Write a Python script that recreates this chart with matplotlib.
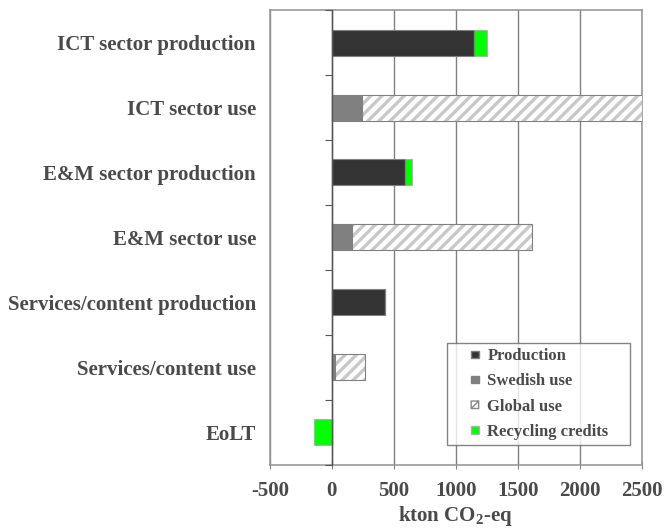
import numpy as np
from matplotlib import pyplot as plt
from matplotlib.patches import Patch, Rectangle, PathPatch
from matplotlib.path import Path
from matplotlib.legend_handler import HandlerPatch

plt.rcParams['font.family'] = ['Liberation Serif', 'DejaVu Serif']
plt.rcParams['font.weight'] = 'bold'
plt.rcParams['mathtext.fontset'] = 'custom'
plt.rcParams['mathtext.rm'] = 'Liberation Serif:bold'
plt.rcParams['mathtext.bf'] = 'Liberation Serif:bold'
plt.rcParams['hatch.linewidth'] = 2.4

# data (kton CO2-eq)
categories = ['ICT sector production', 'ICT sector use', 'E&M sector production',
              'E&M sector use', 'Services/content production', 'Services/content use', 'EoLT']
production = [1145, 0, 590, 0, 427, 0, 0]
swedish_use = [0, 242, 0, 162, 0, 22, 0]
global_use = [0, 2255, 0, 1448, 0, 244, 0]
recycling = [105, 0, 52, 0, 0, 0, -145]
xticks = [-500, 0, 500, 1000, 1500, 2000, 2500]

txt = '#4a4a4a'
edge = '#808080'

fig = plt.figure(figsize=(6.68, 5.30), dpi=100)
ax = fig.add_axes([0.404, 0.123, 0.557, 0.858])

y = np.arange(len(categories))
h = 0.4
prod = np.array(production)
swe = np.array(swedish_use)
glob_ = np.array(global_use)
rec = np.array(recycling)

ax.barh(y, prod, h, color='#333333', edgecolor=edge, linewidth=0.8, zorder=3)
ax.barh(y, swe, h, left=prod, color='#808080', edgecolor=edge, linewidth=0.8, zorder=3)
# hatched global use: light hatch, then gray outline
ax.barh(y, glob_, h, left=prod + swe, color='white', edgecolor='#c8c8c8',
        hatch='///', linewidth=0, zorder=3)
ax.barh(y, glob_, h, left=prod + swe, color='none', edgecolor=edge, linewidth=0.8, zorder=4)
rec_left = np.where(rec > 0, prod + swe + glob_, 0)
ax.barh(y, rec, h, left=rec_left, color='#00ff00', edgecolor='#b0b0b0', linewidth=0.8, zorder=3)

ax.set_xlim(-500, 2500)
ax.set_ylim(len(categories) - 0.5, -0.5)
ax.set_xticks(xticks)
ax.set_xticklabels([str(t) for t in xticks], fontsize=15, color=txt, fontweight='bold')
ax.set_yticks(y)
ax.set_yticklabels(categories, fontsize=15, color=txt, fontweight='bold')
ax.tick_params(axis='y', length=0, pad=10)
ax.tick_params(axis='x', length=6, color=edge, direction='inout', pad=9)
ax.xaxis.grid(True, color=edge, linewidth=1.0, zorder=0)
for s in ax.spines.values():
    s.set_color('#999999')
    s.set_linewidth(1.2)
ax.set_xlabel(r'kton CO$_2$-eq', fontsize=15, color=txt, fontweight='bold', labelpad=2)

# zero line with category separator ticks
ax2 = ax.twinx()
ax2.set_ylim(ax.get_ylim())
for name in ['top', 'right', 'bottom']:
    ax2.spines[name].set_visible(False)
ax2.spines['left'].set_position(('data', 0))
ax2.spines['left'].set_color('#555555')
ax2.spines['left'].set_linewidth(1.0)
ax2.yaxis.tick_left()
ax2.set_yticks(np.arange(len(categories) + 1) - 0.5)
ax2.set_yticklabels([])
ax2.tick_params(axis='y', length=5, color='#555555')
ax2.set_zorder(ax.get_zorder() + 1)
ax2.patch.set_visible(False)


# small square handle centred in a wider handle box
def small_square(legend, orig_handle, xdescent, ydescent, width, height, fontsize):
    s = 5.4
    x0 = width / 2 - s / 2 - xdescent
    y0 = height / 2 - s / 2 - ydescent
    if orig_handle.get_hatch():
        verts = [(x0, y0), (x0 + s, y0), (x0 + s, y0 + s), (x0, y0 + s), (x0, y0),
                 (x0, y0), (x0 + s, y0 + s)]
        codes = [Path.MOVETO, Path.LINETO, Path.LINETO, Path.LINETO, Path.CLOSEPOLY,
                 Path.MOVETO, Path.LINETO]
        return PathPatch(Path(verts, codes))
    return Rectangle((x0, y0), s, s)


class PlainPatchHandler(HandlerPatch):
    def update_prop(self, legend_handle, orig_handle, legend):
        super().update_prop(legend_handle, orig_handle, legend)
        legend_handle.set_hatch(None)


handles = [
    Patch(facecolor='#333333', edgecolor=edge, label='Production'),
    Patch(facecolor='#808080', edgecolor=edge, label='Swedish use'),
    Patch(facecolor='white', edgecolor='#888888', hatch='/', label='Global use'),
    Patch(facecolor='#00ff00', edgecolor='#b0b0b0', label='Recycling credits    '),
]
leg = ax2.legend(handles=handles, loc='lower right', bbox_to_anchor=(0.968, 0.044),
                 prop={'family': 'Liberation Serif', 'weight': 'bold', 'size': 12},
                 frameon=True, fancybox=False, edgecolor='#666666', handlelength=2.7,
                 handleheight=0.6, handletextpad=-0.6, labelspacing=0.55,
                 borderpad=0.3, borderaxespad=0,
                 handler_map={Patch: PlainPatchHandler(patch_func=small_square)})
leg.get_frame().set_linewidth(1.0)
for t in leg.get_texts():
    t.set_color(txt)

plt.savefig('out.png', dpi=100)
